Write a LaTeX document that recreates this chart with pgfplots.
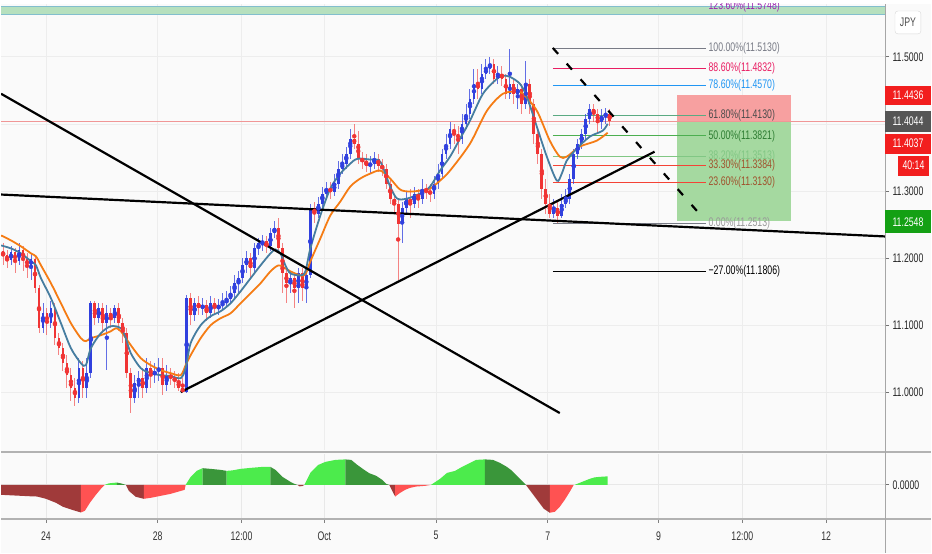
\documentclass[border=0pt]{standalone}
\usepackage{pgfplots}
\pgfplotsset{compat=1.18}
\usepackage{pgfplotstable}
\usepackage{fontspec}
\setmainfont{Liberation Sans}[FakeStretch=0.7]
\definecolor{bg}{RGB}{250,250,250}
\definecolor{cup}{RGB}{48,64,222}
\definecolor{cdn}{RGB}{240,52,52}
\definecolor{emab}{RGB}{70,125,160}
\definecolor{emao}{RGB}{245,124,20}
\definecolor{hlime}{RGB}{76,235,76}
\definecolor{hdg}{RGB}{58,150,58}
\definecolor{hred}{RGB}{255,82,82}
\definecolor{hdr}{RGB}{160,58,58}
\definecolor{band}{RGB}{182,224,190}
\definecolor{bandl}{RGB}{130,190,205}
\definecolor{fpurple}{RGB}{156,39,176}
\definecolor{fgray}{RGB}{120,123,134}
\definecolor{fpink}{RGB}{233,30,99}
\definecolor{fblue}{RGB}{33,150,243}
\definecolor{fteal}{RGB}{90,170,130}
\definecolor{fgreen}{RGB}{76,175,80}
\definecolor{fdgreen}{RGB}{46,125,50}
\definecolor{flgreen}{RGB}{129,199,132}
\definecolor{fred}{RGB}{244,67,54}
\definecolor{fbrown}{RGB}{160,82,45}
\definecolor{posred}{RGB}{247,160,160}
\definecolor{posgreen}{RGB}{165,217,160}
\definecolor{pricel}{RGB}{240,150,150}
\definecolor{boxred}{RGB}{242,30,30}
\definecolor{boxgray}{RGB}{85,85,85}
\definecolor{boxgreen}{RGB}{20,160,20}
\newcommand{\lbl}{\fontsize{12.5}{13}\selectfont}

\pgfplotstableread{
x o h l c
2 11.2097 11.2217 11.1889 11.2038
6 11.2038 11.2112 11.1845 11.1964
10 11.1964 11.2172 11.1889 11.2082
14 11.2082 11.2142 11.1770 11.1949
18 11.1949 11.2217 11.1889 11.2112
22 11.2112 11.2172 11.1800 11.1979
26 11.1979 11.2068 11.1696 11.1889
30 11.1889 11.2068 11.1666 11.1979
34 11.1979 11.2038 11.1473 11.1547
38 11.1547 11.1592 11.0878 11.0952
42 11.0952 11.1324 11.0878 11.1175
46 11.1175 11.1250 11.0848 11.1026
50 11.1026 11.1353 11.0952 11.1250
54 11.1250 11.1324 11.0699 11.0803
58 11.0803 11.0878 11.0550 11.0654
62 11.0654 11.0729 11.0312 11.0431
66 11.0431 11.0550 11.0059 11.0252
70 11.0252 11.0357 10.9865 11.0059
74 11.0059 11.0208 10.9791 10.9910
78 10.9910 11.0506 10.9836 11.0357
82 11.0357 11.0461 10.9910 11.0059
86 11.0059 11.0506 10.9910 11.0282
90 11.0282 11.1353 11.0208 11.1324
94 11.1324 11.1353 11.0996 11.1101
98 11.1101 11.1324 11.1026 11.1250
102 11.1250 11.1324 11.0878 11.1026
106 11.1026 11.1294 11.0327 11.1175
110 11.1175 11.1250 11.0952 11.1101
114 11.1101 11.1294 11.1026 11.1250
118 11.1250 11.1324 11.0907 11.1026
122 11.1026 11.1101 11.0729 11.0878
126 11.0878 11.0952 11.0208 11.0282
130 11.0282 11.0357 10.9687 10.9910
134 10.9910 11.0252 10.9836 11.0134
138 11.0134 11.0312 10.9910 11.0208
142 11.0208 11.0357 10.9910 11.0059
146 11.0059 11.0506 10.9985 11.0357
150 11.0357 11.0461 11.0059 11.0252
154 11.0252 11.0431 11.0134 11.0312
158 11.0312 11.0506 11.0163 11.0357
162 11.0357 11.0506 10.9955 11.0104
166 11.0104 11.0401 11.0014 11.0252
170 11.0252 11.0357 11.0104 11.0208
174 11.0208 11.0312 11.0059 11.0163
178 11.0163 11.0282 11.0014 11.0059
182 11.0059 11.0208 10.9985 10.9999
186 10.9999 11.1443 10.9985 11.1398
190 11.1398 11.1473 11.0996 11.1145
194 11.1145 11.1398 11.1056 11.1324
198 11.1324 11.1428 11.1145 11.1250
202 11.1250 11.1398 11.1145 11.1294
206 11.1294 11.1368 11.1056 11.1175
210 11.1175 11.1428 11.1101 11.1324
214 11.1324 11.1398 11.1145 11.1250
218 11.1250 11.1383 11.1145 11.1294
222 11.1294 11.1473 11.1205 11.1324
226 11.1324 11.1502 11.1250 11.1383
230 11.1383 11.1577 11.1324 11.1473
234 11.1473 11.1740 11.1398 11.1622
238 11.1622 11.1800 11.1473 11.1696
242 11.1696 11.1994 11.1622 11.1889
246 11.1889 11.2097 11.1770 11.1994
250 11.1994 11.2068 11.1696 11.1845
254 11.1845 11.2217 11.1770 11.2142
258 11.2142 11.2291 11.2038 11.2217
262 11.2217 11.2336 11.2097 11.2246
266 11.2246 11.2321 11.2068 11.2172
270 11.2172 11.2440 11.2097 11.2366
274 11.2366 11.2544 11.2291 11.2440
278 11.2440 11.2589 11.2068 11.2142
282 11.2142 11.2217 11.1473 11.1770
286 11.1770 11.1845 11.1324 11.1622
290 11.1622 11.1800 11.1473 11.1696
294 11.1696 11.1770 11.1250 11.1547
298 11.1547 11.1845 11.1324 11.1770
302 11.1770 11.1845 11.1353 11.1547
306 11.1547 11.1800 11.1324 11.1740
310 11.1740 11.2812 11.1696 11.2738
314 11.2738 11.2841 11.2514 11.2663
318 11.2663 11.2916 11.2589 11.2812
322 11.2812 11.3065 11.2738 11.2961
326 11.2961 11.3139 11.2886 11.3035
330 11.3035 11.3139 11.2886 11.2990
334 11.2990 11.3258 11.2931 11.3110
338 11.3110 11.3452 11.3035 11.3333
342 11.3333 11.3556 11.3258 11.3407
346 11.3407 11.3660 11.3333 11.3556
350 11.3556 11.3928 11.3482 11.3779
354 11.3779 11.4002 11.3630 11.3705
358 11.3705 11.3899 11.3407 11.3482
362 11.3482 11.3585 11.3333 11.3437
366 11.3437 11.3556 11.3288 11.3377
370 11.3377 11.3526 11.3258 11.3407
374 11.3407 11.3585 11.3333 11.3482
378 11.3482 11.3556 11.3288 11.3377
382 11.3377 11.3482 11.3228 11.3333
386 11.3333 11.3407 11.3035 11.3110
390 11.3110 11.3184 11.2812 11.2886
394 11.2886 11.2961 11.2663 11.2812
398 11.2812 11.2886 11.1666 11.2514
402 11.2514 11.2841 11.2217 11.2738
406 11.2738 11.2990 11.2663 11.2886
410 11.2886 11.3035 11.2589 11.2812
414 11.2812 11.3065 11.2738 11.2961
418 11.2961 11.3035 11.2738 11.2886
422 11.2886 11.3184 11.2812 11.3035
426 11.3035 11.3110 11.2886 11.2990
430 11.2990 11.3110 11.2841 11.2961
434 11.2961 11.3228 11.2886 11.3110
438 11.3110 11.3407 11.3035 11.3258
442 11.3258 11.3630 11.3184 11.3556
446 11.3556 11.3854 11.3482 11.3705
450 11.3705 11.4032 11.3630 11.3928
454 11.3928 11.4002 11.3705 11.3854
458 11.3854 11.3972 11.3556 11.3779
462 11.3779 11.4151 11.3705 11.4002
466 11.4002 11.4300 11.3928 11.4151
470 11.4151 11.4523 11.4077 11.4374
474 11.4374 11.4821 11.4300 11.4598
478 11.4598 11.4821 11.4374 11.4523
482 11.4523 11.4895 11.4449 11.4746
486 11.4746 11.4970 11.4672 11.4821
490 11.4821 11.4999 11.4746 11.4895
494 11.4895 11.4970 11.4598 11.4672
498 11.4672 11.4865 11.4598 11.4746
502 11.4746 11.4865 11.4568 11.4672
506 11.4672 11.4746 11.4374 11.4449
510 11.4449 11.5118 11.4374 11.4598
514 11.4598 11.4672 11.4300 11.4449
518 11.4449 11.4598 11.4226 11.4523
522 11.4523 11.4598 11.4151 11.4300
526 11.4300 11.4940 11.4226 11.4598
530 11.4598 11.4672 11.4151 11.4300
534 11.4300 11.4374 11.3705 11.3854
538 11.3854 11.3928 11.3407 11.3556
542 11.3556 11.3630 11.2886 11.3035
546 11.3035 11.3184 11.2663 11.2812
550 11.2812 11.2961 11.2589 11.2663
554 11.2663 11.2886 11.2589 11.2738
558 11.2738 11.2841 11.2514 11.2633
562 11.2633 11.2961 11.2589 11.2812
566 11.2812 11.3035 11.2738 11.2886
570 11.2886 11.3258 11.2812 11.3184
574 11.3184 11.3630 11.3110 11.3556
578 11.3556 11.3779 11.3482 11.3705
582 11.3705 11.3928 11.3630 11.3854
586 11.3854 11.4151 11.3779 11.4077
590 11.4077 11.4300 11.4002 11.4226
594 11.4226 11.4300 11.4032 11.4151
598 11.4151 11.4226 11.3854 11.4032
602 11.4032 11.4226 11.3928 11.4121
606 11.4121 11.4240 11.4002 11.4151
610 11.4151 11.4226 11.3972 11.4047
}\candles

\pgfplotsset{
  candle/.style={only marks, mark=none, forget plot,
    error bars/y dir=both, error bars/y explicit, error bars/error mark=none},
}
\tikzset{fl/.style={anchor=west, inner sep=0pt, font=\lbl}}

\begin{document}
\begin{tikzpicture}[font=\lbl]
\begin{scope}[x=1pt,y=1pt]
\fill[bg] (0,0) rectangle (932,550);
\path[use as bounding box] (0,0) rectangle (932,550);
\end{scope}

\begin{axis}[at={(0pt,103pt)}, anchor=south west, scale only axis,
  width=886pt, height=447pt,
  xmin=0, xmax=886, ymin=10.9137, ymax=11.5788,
  axis line style={draw=none},
  xtick={45,157,241,324,436,548,659,743,827}, xticklabels={}, x tick style={draw=none},
  xmajorgrids, ymajorgrids,
  grid style={draw=black!7, line width=0.7pt},
  ytick={11.0,11.1,11.2,11.3,11.4,11.5},
  yticklabels={11.0000,11.1000,11.2000,11.3000,,11.5000},
  ytick pos=right, yticklabel pos=right,
  tick align=outside, major tick length=4pt,
  y tick style={draw=black!55, line width=0.7pt},
  yticklabel style={font=\lbl, text=black!85},
]
% 123.6% band
\fill[band] (axis cs:0,11.5629) rectangle (axis cs:886,11.5748);
\addplot[bandl, line width=0.8pt] coordinates {(0,11.5629) (886,11.5629)};
\addplot[bandl, line width=0.8pt] coordinates {(0,11.5748) (886,11.5748)};
% position tool
\fill[posred] (axis cs:677,11.4434) rectangle (axis cs:792,11.4044);
\fill[posgreen] (axis cs:677,11.4044) rectangle (axis cs:792,11.2545);
% fib lines
\addplot[fgray, line width=0.8pt] coordinates {(553,11.5130) (707,11.5130)};
\addplot[fpink, line width=0.8pt] coordinates {(553,11.4832) (707,11.4832)};
\addplot[fblue, line width=0.8pt] coordinates {(553,11.4570) (707,11.4570)};
\addplot[fteal, line width=0.8pt] coordinates {(553,11.4130) (707,11.4130)};
\addplot[fgreen, line width=0.8pt] coordinates {(553,11.3821) (707,11.3821)};
\addplot[flgreen, line width=0.8pt] coordinates {(553,11.3513) (707,11.3513)};
\addplot[fred, line width=0.8pt] coordinates {(553,11.3384) (707,11.3384)};
\addplot[fred, line width=0.8pt] coordinates {(553,11.3130) (707,11.3130)};
\addplot[fgray, line width=0.8pt] coordinates {(553,11.2513) (707,11.2513)};
\addplot[black, line width=0.8pt] coordinates {(553,11.1806) (707,11.1806)};
% current price line
\addplot[pricel, line width=0.6pt] coordinates {(0,11.4044) (886,11.4044)};
% candles: wicks
\addplot[restrict expr to domain={\thisrow{c}-\thisrow{o}}{0:1}, candle, color=cup,
  error bars/error bar style={line width=1pt, opacity=0.75}]
  table[x=x, y expr={0.5*(\thisrow{h}+\thisrow{l})}, y error expr={0.5*(\thisrow{h}-\thisrow{l})}] {\candles};
\addplot[restrict expr to domain={\thisrow{o}-\thisrow{c}}{0.00001:1}, candle, color=cdn,
  error bars/error bar style={line width=1pt, opacity=0.6}]
  table[x=x, y expr={0.5*(\thisrow{h}+\thisrow{l})}, y error expr={0.5*(\thisrow{h}-\thisrow{l})}] {\candles};
% candles: bodies
\addplot[restrict expr to domain={\thisrow{c}-\thisrow{o}}{0:1}, candle, color=cup,
  error bars/error bar style={line width=2.8pt}]
  table[x=x, y expr={0.5*(\thisrow{o}+\thisrow{c})}, y error expr={0.5*abs(\thisrow{c}-\thisrow{o})}] {\candles};
\addplot[restrict expr to domain={\thisrow{o}-\thisrow{c}}{0.00001:1}, candle, color=cdn,
  error bars/error bar style={line width=2.8pt}]
  table[x=x, y expr={0.5*(\thisrow{o}+\thisrow{c})}, y error expr={0.5*abs(\thisrow{c}-\thisrow{o})}] {\candles};
% EMAs
\addplot[emao, line width=1.8pt, smooth] coordinates {
(0,11.2336) (10,11.2261) (20,11.2172) (30,11.2068) (35,11.2023) (40,11.1889)
(50,11.1622) (60,11.1324) (70,11.1026) (80,11.0803) (85,11.0759) (90,11.0803)
(100,11.0848) (110,11.0907) (115,11.0952) (120,11.0907) (130,11.0699) (140,11.0506)
(150,11.0401) (160,11.0327) (170,11.0282) (180,11.0252) (185,11.0401) (190,11.0550)
(200,11.0803) (210,11.0996) (220,11.1101) (230,11.1175) (240,11.1324) (250,11.1473)
(260,11.1622) (270,11.1800) (278,11.1889) (285,11.1845) (290,11.1800) (300,11.1740)
(305,11.1755) (310,11.1949) (320,11.2291) (330,11.2633) (340,11.2841) (350,11.3065)
(360,11.3184) (370,11.3258) (380,11.3303) (390,11.3184) (400,11.3020) (410,11.2990)
(420,11.3005) (430,11.3035) (440,11.3154) (450,11.3303) (470,11.3705) (487,11.4196)
(503,11.4449) (517,11.4479) (523,11.4449) (537,11.4196) (550,11.3749) (560,11.3511)
(567,11.3511) (580,11.3660) (597,11.3749) (608,11.3868)};
\addplot[emab, line width=1.8pt, smooth] coordinates {
(0,11.2187) (10,11.2142) (20,11.2068) (30,11.1949) (35,11.1889) (40,11.1696)
(50,11.1398) (60,11.1026) (70,11.0654) (80,11.0431) (85,11.0401) (90,11.0654)
(100,11.0878) (110,11.0982) (120,11.0952) (125,11.0803) (130,11.0580) (140,11.0357)
(150,11.0282) (160,11.0252) (170,11.0238) (180,11.0208) (185,11.0357) (190,11.0729)
(200,11.0996) (210,11.1131) (220,11.1205) (230,11.1324) (240,11.1502) (250,11.1696)
(260,11.1889) (270,11.2068) (275,11.2127) (280,11.2068) (285,11.1889) (290,11.1770)
(300,11.1740) (305,11.1800) (310,11.2142) (320,11.2633) (330,11.3035) (340,11.3258)
(350,11.3407) (355,11.3467) (360,11.3482) (370,11.3467) (380,11.3437) (390,11.3065)
(397,11.2886) (407,11.2886) (420,11.2961) (430,11.3065) (440,11.3303) (450,11.3511)
(460,11.3779) (470,11.4047) (483,11.4449) (497,11.4672) (503,11.4717) (510,11.4702)
(520,11.4598) (527,11.4404) (537,11.3958) (547,11.3511) (557,11.3154) (562,11.3258)
(567,11.3452) (577,11.3630) (590,11.3809) (603,11.3898) (608,11.4002)};
% trend lines
\addplot[black, line width=2.2pt] coordinates {(0,11.4449) (560,10.9687)};
\addplot[black, line width=2.2pt] coordinates {(180,11.0000) (655,11.3585)};
\addplot[black, line width=2.2pt] coordinates {(0,11.2946) (886,11.2321)};
\addplot[black, line width=2.2pt, dash pattern=on 8pt off 13pt] coordinates {(553,11.5133) (698,11.2693)};
% fib labels
\node[fl, text=fpurple] at (axis cs:709,11.5748) {123.60\%(11.5748)};
\node[fl, text=fgray] at (axis cs:709,11.5130) {100.00\%(11.5130)};
\node[fl, text=fpink] at (axis cs:709,11.4832) {88.60\%(11.4832)};
\node[fl, text=fblue] at (axis cs:709,11.4570) {78.60\%(11.4570)};
\node[fl, text=black!70] at (axis cs:709,11.4130) {61.80\%(11.4130)};
\node[fl, text=fdgreen] at (axis cs:709,11.3821) {50.00\%(11.3821)};
\node[fl, text=flgreen] at (axis cs:709,11.3513) {38.20\%(11.3513)};
\node[fl, text=fbrown] at (axis cs:709,11.3384) {33.30\%(11.3384)};
\node[fl, text=fbrown] at (axis cs:709,11.3130) {23.60\%(11.3130)};
\node[fl, text=black!40] at (axis cs:709,11.2513) {0.00\%(11.2513)};
\node[fl, text=black] at (axis cs:709,11.1806) {−27.00\%(11.1806)};
\end{axis}

\begin{axis}[at={(0pt,35pt)}, anchor=south west, scale only axis,
  width=886pt, height=64pt,
  xmin=0, xmax=886, ymin=-0.033, ymax=0.031,
  axis line style={draw=none}, scaled y ticks=false,
  xtick={45,157,241,324,436,548,659,743,827}, xticklabels={}, x tick style={draw=none},
  xmajorgrids, ymajorgrids,
  grid style={draw=black!9, line width=0.7pt},
  ytick={0}, yticklabels={0.0000},
  ytick pos=right, yticklabel pos=right,
  tick align=outside, major tick length=4pt,
  y tick style={draw=black!55, line width=0.7pt},
  yticklabel style={font=\lbl, text=black!85},
]
\addplot[draw=none, fill=hdr] coordinates {(0,-0.010) (10,-0.0105) (20,-0.011) (30,-0.0115) (36,-0.0117) (45,-0.014) (55,-0.018) (62,-0.022) (71,-0.025) (80,-0.0277)} \closedcycle;
\addplot[draw=none, fill=hred] coordinates {(80,-0.0277) (84,-0.026) (89,-0.018) (95,-0.010) (100,-0.004) (104,0)} \closedcycle;
\addplot[draw=none, fill=hlime] coordinates {(104,0) (108,0.0015) (116,0.0023)} \closedcycle;
\addplot[draw=none, fill=hdg] coordinates {(116,0.0023) (120,0.0015) (125,0)} \closedcycle;
\addplot[draw=none, fill=hdr] coordinates {(125,0) (128,-0.006) (135,-0.012) (143,-0.014)} \closedcycle;
\addplot[draw=none, fill=hred] coordinates {(143,-0.014) (150,-0.013) (160,-0.011) (170,-0.009) (178,-0.0067) (184,-0.005) (185,0)} \closedcycle;
\addplot[draw=none, fill=hlime] coordinates {(185,0) (190,0.008) (196,0.014) (202,0.0167)} \closedcycle;
\addplot[draw=none, fill=hdg] coordinates {(202,0.0167) (210,0.016) (220,0.015) (226,0.014)} \closedcycle;
\addplot[draw=none, fill=hlime] coordinates {(226,0.014) (232,0.0145) (240,0.016) (250,0.017) (262,0.018) (270,0.018)} \closedcycle;
\addplot[draw=none, fill=hdg] coordinates {(270,0.018) (275,0.015) (282,0.008) (290,0.003) (294,0.001) (297,0)} \closedcycle;
\addplot[draw=none, fill=hdr] coordinates {(297,0) (299,-0.0015) (302,-0.0012) (304,0)} \closedcycle;
\addplot[draw=none, fill=hlime] coordinates {(304,0) (310,0.012) (318,0.020) (325,0.023) (335,0.025) (345,0.0255)} \closedcycle;
\addplot[draw=none, fill=hdg] coordinates {(345,0.0255) (351,0.025) (357,0.020) (364,0.015) (369,0.0117) (376,0.009) (382,0.005) (386,0.001) (389,0)} \closedcycle;
\addplot[draw=none, fill=hdr] coordinates {(389,0) (392,-0.006) (395,-0.0117)} \closedcycle;
\addplot[draw=none, fill=hred] coordinates {(395,-0.0117) (400,-0.008) (405,-0.005) (410,-0.003) (416,-0.0017) (425,-0.001) (431,0)} \closedcycle;
\addplot[draw=none, fill=hlime] coordinates {(431,0) (440,0.006) (447,0.012) (455,0.014) (462,0.018) (470,0.022) (476,0.025) (485,0.0255)} \closedcycle;
\addplot[draw=none, fill=hdg] coordinates {(485,0.0255) (493,0.025) (500,0.022) (507,0.018) (511,0.015) (518,0.008) (523,0.003) (526,0)} \closedcycle;
\addplot[draw=none, fill=hdr] coordinates {(526,0) (532,-0.008) (538,-0.016) (544,-0.024) (550,-0.028)} \closedcycle;
\addplot[draw=none, fill=hred] coordinates {(550,-0.028) (555,-0.027) (560,-0.022) (565,-0.015) (570,-0.007) (574,0)} \closedcycle;
\addplot[draw=none, fill=hlime] coordinates {(575,0) (580,0.002) (585,0.004) (590,0.006) (595,0.0075) (600,0.008) (608,0.0085)} \closedcycle;
\end{axis}

\begin{scope}[x=1pt,y=1pt]
% panel separators and border
\draw[black!30, line width=2.2pt] (0,101) -- (932,101);
\draw[black!30, line width=2.2pt] (0,34) -- (932,34);
\draw[black!35, line width=0.8pt] (886,0) -- (886,550);
% time axis
\foreach \xx/\tt in {45/24,157/28,241/12:00,324/Oct,436/5,548/7,659/9,743/12:00,827/12}{
  \draw[black!50, line width=0.7pt] (\xx,33) -- (\xx,30);
  \node[text=black!80, font=\lbl] at (\xx,17) {\tt};
}
% price scale labels
\fill[boxred] (886,449) rectangle (932,468);
\node[text=white, font=\lbl] at (909,458.5) {11.4436};
\fill[boxgray] (886,422) rectangle (932,443);
\node[text=white, font=\lbl] at (909,432.5) {11.4044};
\fill[boxred] (886,400) rectangle (932,420);
\node[text=white, font=\lbl] at (909,410) {11.4037};
\fill[boxred] (899,378) rectangle (930,398);
\node[text=white, font=\lbl] at (914.5,388) {40:14};
\fill[boxgreen] (886,320) rectangle (932,343);
\node[text=white, font=\lbl] at (909,331.5) {11.2548};
\draw[black!15, fill=white, rounded corners=3pt] (896,520) rectangle (922,543);
\node[text=black!70, font=\lbl] at (909,531.5) {JPY};
\end{scope}
\end{tikzpicture}
\end{document}
